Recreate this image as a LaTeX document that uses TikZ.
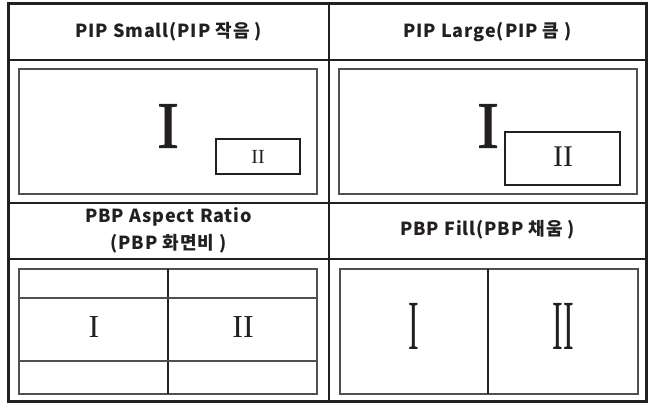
\documentclass[tikz,border=0pt]{standalone}
\usepackage{fontspec}
\setmainfont{Liberation Serif}
\newfontfamily\heavyser{Liberation Serif}[FakeBold=1.2]
\newfontfamily\krfont{Noto Sans CJK KR}[LetterSpace=5]
\usepackage{graphicx}
\definecolor{tline}{HTML}{231F20}
\definecolor{bline}{HTML}{505050}
\tikzset{
  grid/.style={line width=2.6pt, draw=tline},
  screen/.style={line width=1.3pt, draw=bline},
  inner/.style={line width=1.2pt, draw=tline},
  head/.style={font=\krfont\bfseries\fontsize{18}{27}\selectfont, text=tline, align=center, inner sep=0pt},
  num/.style={text=tline, inner sep=0pt},
  bignum/.style={text=tline, inner sep=0pt, font=\heavyser\fontsize{66}{66}\selectfont},
}
\begin{document}
\begin{tikzpicture}[x=1pt,y=-1pt]
\useasboundingbox (0,0) rectangle (649,403);
\fill[white] (0,0) rectangle (649,403);
% table grid
\draw[grid] (8.5,3.5) rectangle (646.5,401.5);
\draw[grid] (329,3.5) -- (329,401.5);
\draw[grid] (8.5,60) -- (646.5,60);
\draw[grid] (8.5,203) -- (646.5,203);
\draw[grid] (8.5,259) -- (646.5,259);
% headers
\node[head] (h1) at (168.5,32) {PIP Small(PIP 작음 )};
\node[head] (h2) at (487.5,32) {PIP Large(PIP 큼 )};
\node[head] (h3) at (168.5,230.5) {PBP Aspect Ratio\\(PBP 화면비 )};
\node[head] (h4) at (487.5,230) {PBP Fill(PBP 채움 )};
% PIP small
\draw[screen] (19,69) rectangle (317,194);
\node[bignum] (s1) at (168,126) {I};
\draw[inner] (216,139) rectangle (300,174);
\node[num, font=\fontsize{20}{20}\selectfont] (s2) at (258,157) {II};
% PIP large
\draw[screen] (339,69) rectangle (637,194);
\node[bignum] (l1) at (488,126) {I};
\draw[inner] (505,132) rectangle (620,185);
\node[num, font=\fontsize{30}{30}\selectfont] (l2) at (563,157) {II};
% PBP aspect
\draw[screen] (19,269) rectangle (317,394);
\draw[inner] (168,269) -- (168,394);
\draw[screen] (19,298) -- (317,298);
\draw[screen] (19,361) -- (317,361);
\node[num, font=\fontsize{32}{32}\selectfont] (a1) at (94,327) {I};
\node[num, font=\fontsize{32}{32}\selectfont] (a2) at (243,327) {II};
% PBP fill
\draw[screen] (340,269) rectangle (638,394);
\draw[inner] (488,269) -- (488,394);
\node[num, font=\fontsize{32}{32}\selectfont] (f1) at (414,326) {\scalebox{1}[2.2]{I}};
\node[num, font=\fontsize{32}{32}\selectfont] (f2) at (563,326) {\scalebox{1}[2.2]{II}};
\end{tikzpicture}
\end{document}
